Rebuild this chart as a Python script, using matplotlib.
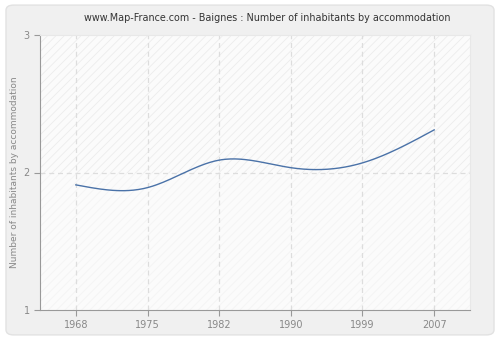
import numpy as np
import matplotlib
matplotlib.use("Agg")
import matplotlib.pyplot as plt
from matplotlib.patches import Rectangle, FancyBboxPatch

years = ["1968", "1975", "1982", "1990", "1999", "2007"]
values = [1.91, 1.89, 2.09, 2.035, 2.07, 2.31]
y_ticks = [1, 2, 3]


def natural_spline(x, y, n=300):
    x = np.asarray(x, float)
    y = np.asarray(y, float)
    k = len(x)
    h = np.diff(x)
    A = np.zeros((k, k))
    b = np.zeros(k)
    A[0, 0] = A[-1, -1] = 1
    for i in range(1, k - 1):
        A[i, i - 1] = h[i - 1]
        A[i, i] = 2 * (h[i - 1] + h[i])
        A[i, i + 1] = h[i]
        b[i] = 3 * ((y[i + 1] - y[i]) / h[i] - (y[i] - y[i - 1]) / h[i - 1])
    c = np.linalg.solve(A, b)
    xs = np.linspace(x[0], x[-1], n)
    ys = np.empty_like(xs)
    for j, t in enumerate(xs):
        i = min(np.searchsorted(x, t, side="right") - 1, k - 2)
        d = t - x[i]
        bb = (y[i + 1] - y[i]) / h[i] - h[i] * (2 * c[i] + c[i + 1]) / 3
        dd = (c[i + 1] - c[i]) / (3 * h[i])
        ys[j] = y[i] + bb * d + c[i] * d ** 2 + dd * d ** 3
    return xs, ys


plt.rcParams["hatch.linewidth"] = 0.6

fig = plt.figure(figsize=(5, 3.4), dpi=100)
fig.patch.set_facecolor("white")
fig.patches.append(FancyBboxPatch((0.012, 0.015), 0.976, 0.97, boxstyle="round,pad=0,rounding_size=0.015",
                                  transform=fig.transFigure, facecolor="#f0f0f0",
                                  edgecolor="#e2e2e2", linewidth=1, zorder=-1))

ax = fig.add_axes([40 / 500, 1 - 310 / 340, 430 / 500, 275 / 340])
ax.set_zorder(1)
ax.set_facecolor("#fbfbfb")
ax.set_xlim(-0.5, len(years) - 0.5)
ax.set_ylim(1, 3)

# hatched background, stronger in the upper half
ax.add_patch(Rectangle((-0.5, 2), len(years), 1, facecolor="none", edgecolor="#ececec",
                       hatch="////", linewidth=0, zorder=0))
ax.add_patch(Rectangle((-0.5, 1), len(years), 1, facecolor="none", edgecolor="#f4f4f4",
                       hatch="////", linewidth=0, zorder=0))

x = np.arange(len(years))
for xi in x:
    ax.axvline(xi, color="#dddddd", linestyle=(0, (4, 3)), linewidth=0.9, zorder=1)
ax.axhline(2, color="#dddddd", linestyle=(0, (4, 3)), linewidth=0.9, zorder=1)

xs, ys = natural_spline(x, values)
ax.plot(xs, ys, color="#4a72a8", linewidth=1.0, zorder=3)

ax.set_xticks(x)
ax.set_xticklabels(years)
ax.set_yticks(y_ticks)
ax.tick_params(colors="#999999", labelcolor="#888888", labelsize=7, length=4, width=0.8)
for s in ["top", "right"]:
    ax.spines[s].set_color("#e8e8e8")
for s in ["left", "bottom"]:
    ax.spines[s].set_color("#999999")

ax.set_ylabel("Number of inhabitants by accommodation", color="#888888", fontsize=6.5)
ax.yaxis.set_label_coords(-21 / 430, 0.5)
fig.text(0.534, 1 - 18 / 340, "www.Map-France.com - Baignes : Number of inhabitants by accommodation",
         ha="center", va="center", fontsize=6.9, color="#333333")

fig.savefig("out.png", dpi=100)
